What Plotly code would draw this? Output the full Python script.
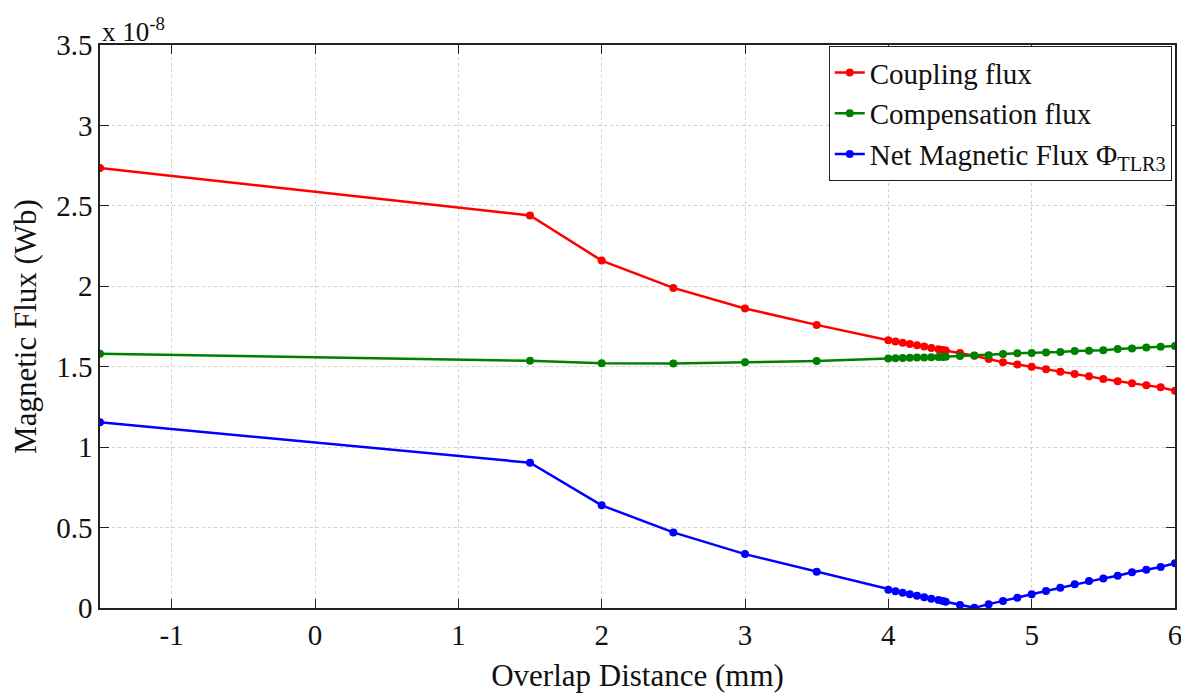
import plotly.graph_objects as go

# overlap distance (mm)
overlap = [-1.5, 1.5, 2.0, 2.5, 3.0, 3.5, 4.0, 4.05, 4.1, 4.15, 4.2, 4.25, 4.3, 4.35, 4.38, 4.4,
           4.5, 4.6, 4.7, 4.8, 4.9, 5.0, 5.1, 5.2, 5.3, 5.4, 5.5, 5.6, 5.7, 5.8, 5.9, 6.0]

# flux values in units of 1e-8 Wb
coupling = [2.735, 2.44, 2.16, 1.99, 1.862, 1.76, 1.665, 1.657, 1.649, 1.641, 1.633, 1.625, 1.617, 1.609, 1.604, 1.601,
            1.585, 1.568, 1.548, 1.527, 1.514, 1.500, 1.484, 1.469, 1.454, 1.440, 1.423, 1.409, 1.397, 1.384, 1.372, 1.351]
compensation = [1.58, 1.537, 1.522, 1.52, 1.527, 1.535, 1.551, 1.553, 1.554, 1.556, 1.557, 1.558, 1.559, 1.560, 1.561, 1.562,
                1.566, 1.569, 1.572, 1.579, 1.583, 1.585, 1.589, 1.591, 1.597, 1.599, 1.603, 1.610, 1.614, 1.620, 1.624, 1.628]
net_flux = [1.155, 0.903, 0.638, 0.47, 0.335, 0.225, 0.114, 0.104, 0.095, 0.085, 0.076, 0.067, 0.058, 0.049, 0.043, 0.039,
            0.019, 0.001, 0.024, 0.043, 0.064, 0.085, 0.106, 0.126, 0.147, 0.168, 0.184, 0.201, 0.222, 0.238, 0.255, 0.278]

x_ticks = [-1, 0, 1, 2, 3, 4, 5, 6]
x_labels = ["-1", "0", "1", "2", "3", "4", "5", "6"]
y_ticks = [0, 0.5, 1, 1.5, 2, 2.5, 3, 3.5]
y_labels = ["0", "0.5", "1", "1.5", "2", "2.5", "3", "3.5"]

font = "Liberation Serif, Times New Roman, serif"

fig = go.Figure()
series = [
    ("Coupling flux", coupling, "#ff0000"),
    ("Compensation flux", compensation, "#008000"),
    ("Net Magnetic Flux \u03a6<sub>TLR3</sub>", net_flux, "#0000ff"),
]
for name, vals, col in series:
    fig.add_trace(go.Scatter(x=overlap, y=vals, name=name, mode="lines+markers",
                             line=dict(color=col, width=2.5), marker=dict(color=col, size=8)))

axis_common = dict(showgrid=True, gridcolor="#d0d0d0", griddash="dot", gridwidth=1,
                   showline=True, linecolor="#222", linewidth=1.5, mirror="ticks",
                   ticks="inside", ticklen=9, tickcolor="#222", zeroline=False,
                   automargin=False, ticklabeloverflow="allow",
                   tickfont=dict(family=font, size=29, color="#111"))

fig.update_xaxes(range=[-1.5, 6], tickvals=x_ticks, ticktext=x_labels,
                 title=dict(text="Overlap Distance (mm)", font=dict(family=font, size=31, color="#111"), standoff=18),
                 **axis_common)
fig.update_yaxes(range=[0, 3.5], tickvals=y_ticks, ticktext=y_labels, ticklabelstandoff=0,
                 title=dict(text="Magnetic Flux (Wb)", font=dict(family=font, size=31, color="#111"), standoff=12),
                 **axis_common)

fig.add_annotation(text="x 10<sup>-8</sup>", xref="paper", yref="paper", x=0, y=1,
                   xanchor="left", yanchor="bottom", showarrow=False, yshift=-4,
                   font=dict(family=font, size=27, color="#111"))

# page body has an 8px margin, so the figure is shifted by 8px
fig.update_layout(
    width=1181, height=685,
    margin=dict(l=92, r=14, t=37, b=85),
    plot_bgcolor="white", paper_bgcolor="white",
    legend=dict(x=0.997, y=0.998, xanchor="right", yanchor="top",
                bordercolor="#222", borderwidth=1, bgcolor="white",
                font=dict(family=font, size=29, color="#111"), tracegroupgap=0),
)

fig.write_html("out.html")
